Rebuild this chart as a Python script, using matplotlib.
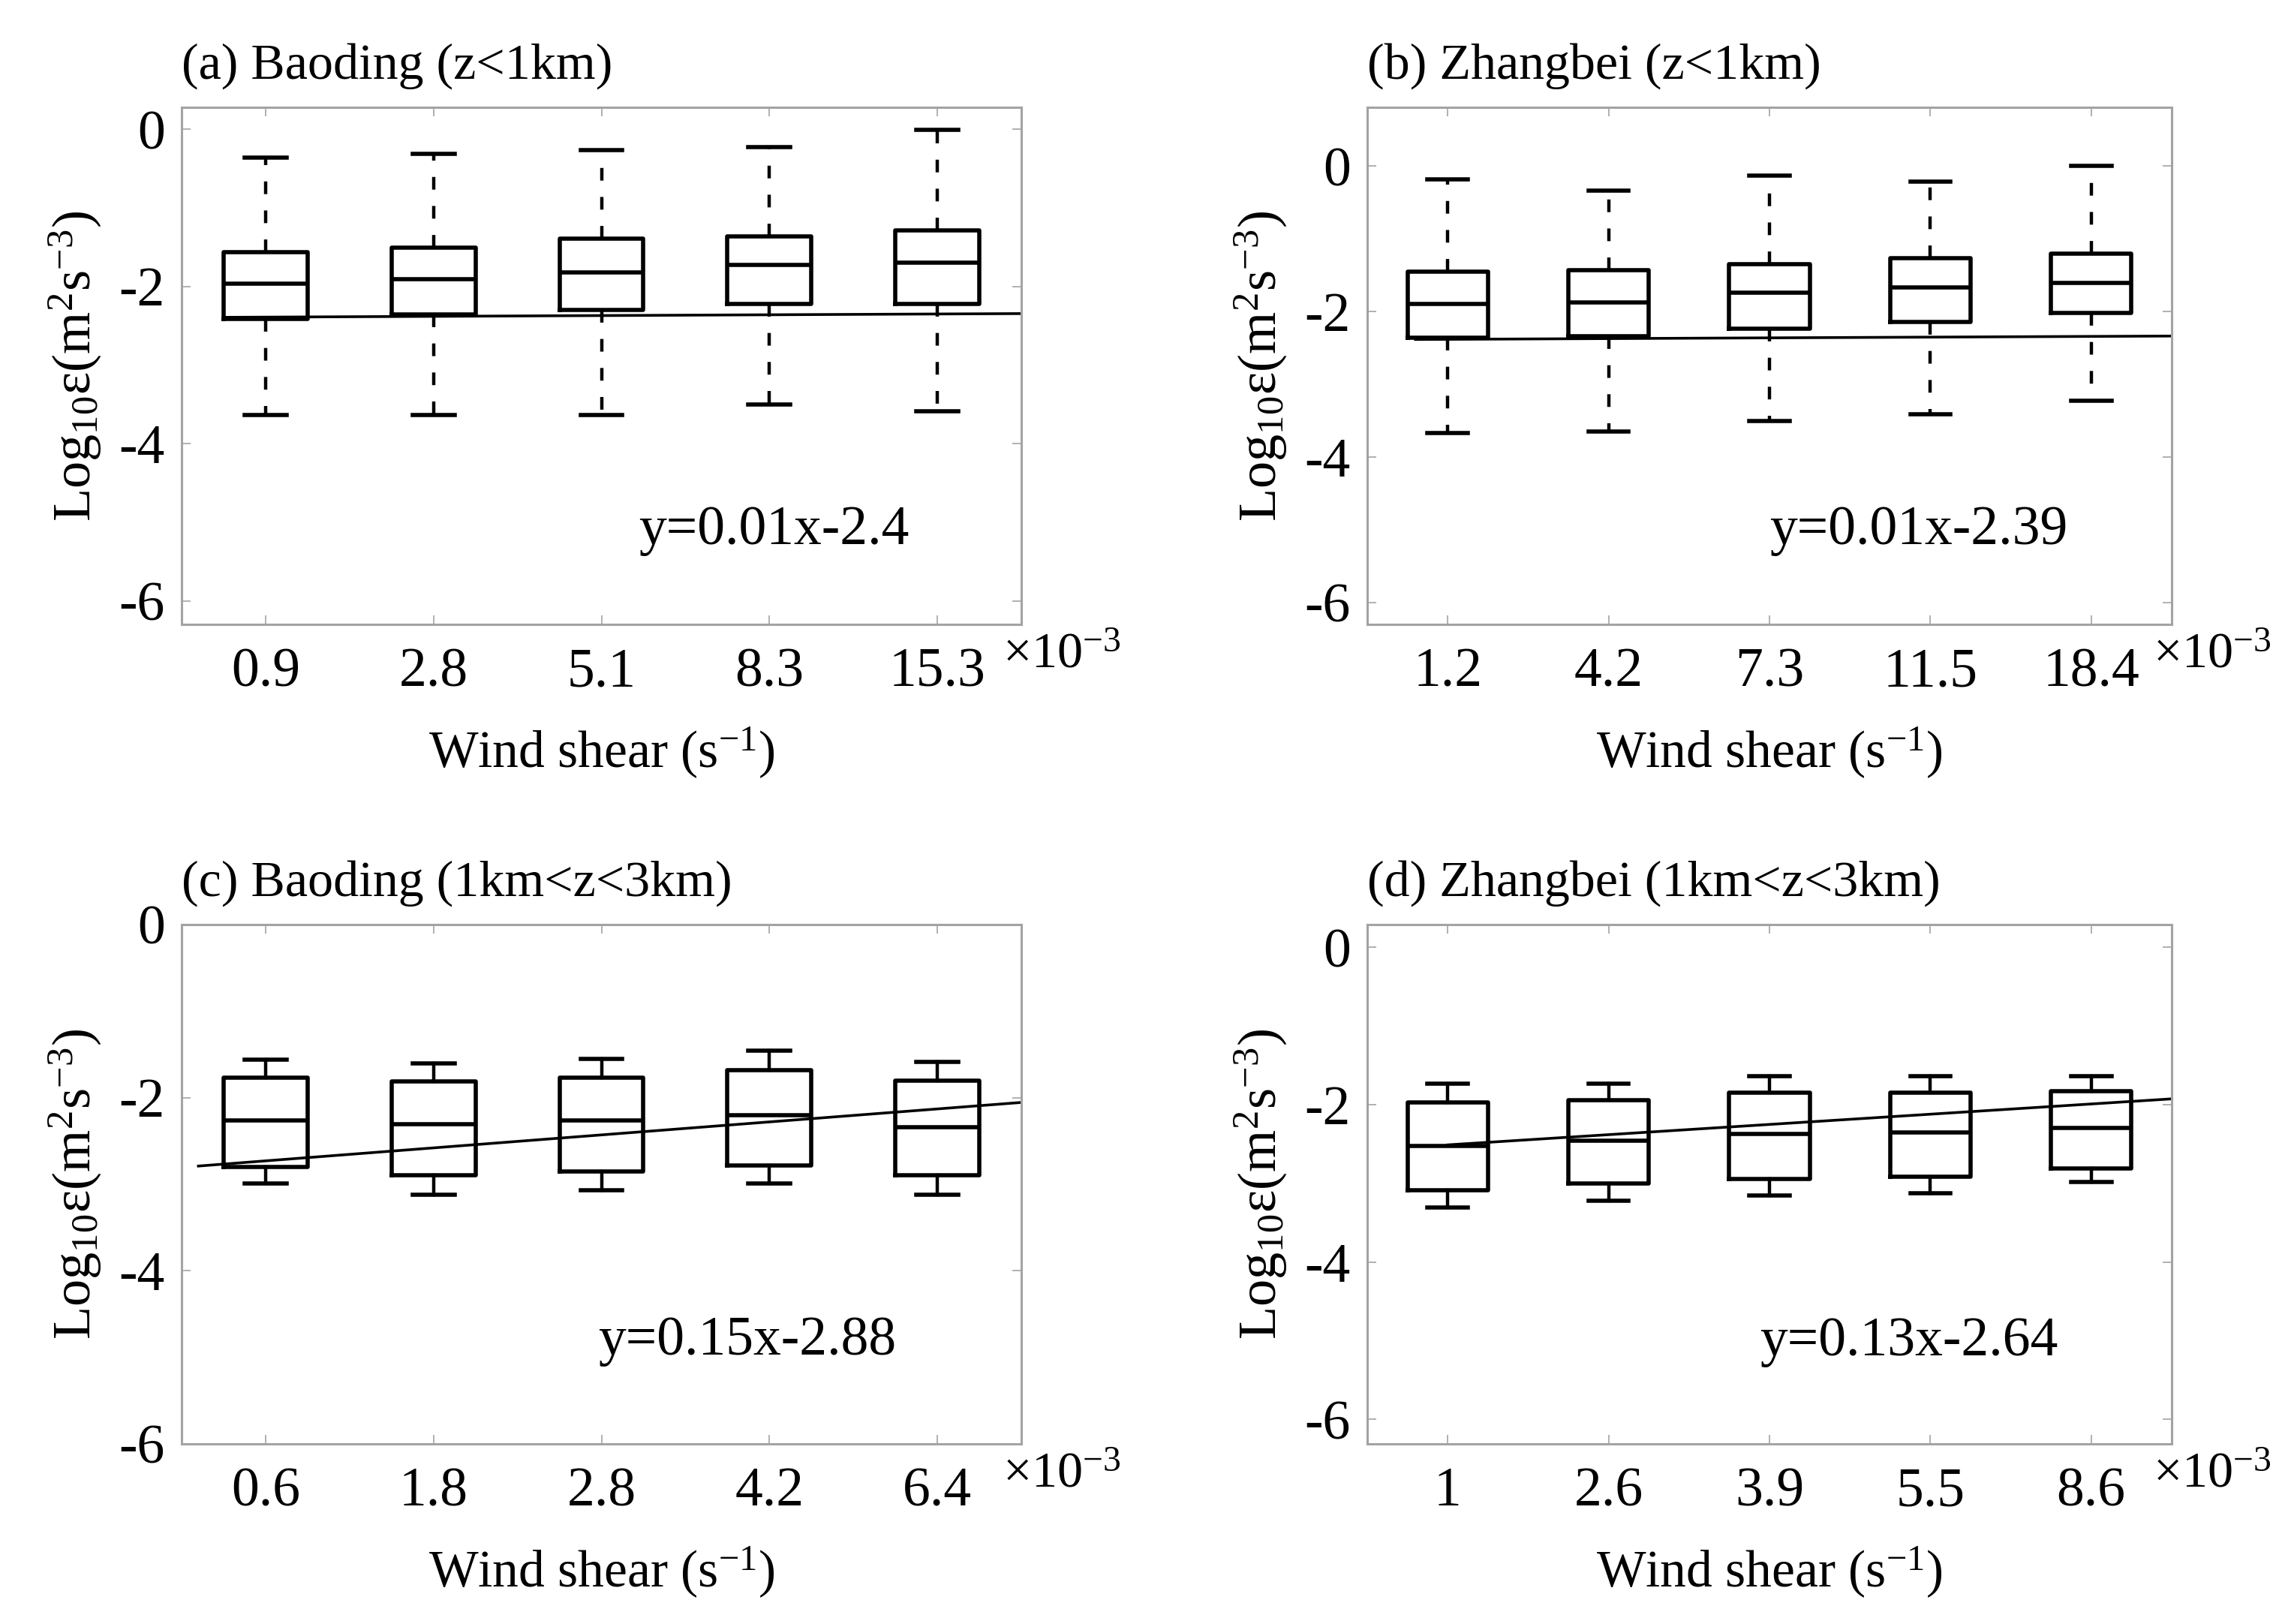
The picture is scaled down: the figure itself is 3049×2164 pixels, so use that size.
import matplotlib
matplotlib.use('Agg')
import matplotlib.pyplot as plt
import numpy as np

plt.rcParams['font.family'] = ['Liberation Serif', 'DejaVu Serif']
plt.rcParams['mathtext.fontset'] = 'custom'
plt.rcParams['mathtext.rm'] = 'Liberation Serif'
plt.rcParams['mathtext.it'] = 'Liberation Serif:italic'
plt.rcParams['mathtext.bf'] = 'Liberation Serif:bold'
plt.rcParams['axes.unicode_minus'] = False

# ---------------- data ----------------
titles = ['(a) Baoding (z<1km)', '(b) Zhangbei (z<1km)',
          '(c) Baoding (1km<z<3km)', '(d) Zhangbei (1km<z<3km)']
xticklabels = [['0.9', '2.8', '5.1', '8.3', '15.3'],
               ['1.2', '4.2', '7.3', '11.5', '18.4'],
               ['0.6', '1.8', '2.8', '4.2', '6.4'],
               ['1', '2.6', '3.9', '5.5', '8.6']]

# (a) Baoding z<1km
whishi_a = [-0.36, -0.31, -0.26, -0.23, -0.01]
q3_a     = [-1.56, -1.51, -1.39, -1.36, -1.29]
med_a    = [-1.96, -1.91, -1.82, -1.73, -1.70]
q1_a     = [-2.41, -2.36, -2.30, -2.22, -2.22]
whislo_a = [-3.64, -3.64, -3.64, -3.50, -3.59]
# (b) Zhangbei z<1km
whishi_b = [-0.18, -0.34, -0.13, -0.21, 0.01]
q3_b     = [-1.45, -1.43, -1.35, -1.26, -1.20]
med_b    = [-1.89, -1.87, -1.74, -1.67, -1.60]
q1_b     = [-2.36, -2.34, -2.23, -2.14, -2.02]
whislo_b = [-3.67, -3.65, -3.50, -3.41, -3.23]
# (c) Baoding 1km<z<3km
whishi_c = [-1.56, -1.60, -1.55, -1.46, -1.59]
q3_c     = [-1.77, -1.81, -1.77, -1.68, -1.80]
med_c    = [-2.26, -2.31, -2.26, -2.20, -2.34]
q1_c     = [-2.80, -2.90, -2.85, -2.78, -2.90]
whislo_c = [-2.99, -3.12, -3.07, -2.99, -3.12]
# (d) Zhangbei 1km<z<3km
whishi_d = [-1.73, -1.73, -1.64, -1.64, -1.64]
q3_d     = [-1.97, -1.94, -1.85, -1.85, -1.83]
med_d    = [-2.52, -2.46, -2.37, -2.35, -2.29]
q1_d     = [-3.09, -3.00, -2.94, -2.91, -2.81]
whislo_d = [-3.31, -3.22, -3.15, -3.12, -2.98]

# linear fits  y = slope * x + intercept
slopes = [0.01, 0.01, 0.15, 0.13]
intercepts = [-2.4, -2.39, -2.88, -2.64]
fit_start = [0.75, 0.8, 0.6, 1.0]
fit_end = [5.5, 5.5, 5.5, 5.5]
equations = ['y=0.01x-2.4', 'y=0.01x-2.39', 'y=0.15x-2.88', 'y=0.13x-2.64']

yticks = [-6, -4, -2, 0]
yticklabels = ['-6', '-4', '-2', '0']
ylims = [(-6.3, 0.28), (-6.3, 0.81), (-6.0, 0.0), (-6.31, 0.29)]

# ---------------- layout / style ----------------
W, H = 3049, 2164
DPI = 200
fig = plt.figure(figsize=(W / DPI, H / DPI), dpi=DPI)
rects = [[242 / W, 1 - 832 / H, 1119 / W, 689 / H],
         [1822 / W, 1 - 832 / H, 1072 / W, 689 / H],
         [242 / W, 1 - 1924 / H, 1119 / W, 692 / H],
         [1822 / W, 1 - 1924 / H, 1072 / W, 692 / H]]
eq_pos = [(3.22, -5.28), (3.0, -5.2), (2.98, -4.97), (2.94, -5.18)]
whisker_styles = [(0, (3.8, 4.9)), (0, (3.8, 4.9)), '-', '-']

stats_sets = [(whishi_a, q3_a, med_a, q1_a, whislo_a),
              (whishi_b, q3_b, med_b, q1_b, whislo_b),
              (whishi_c, q3_c, med_c, q1_c, whislo_c),
              (whishi_d, q3_d, med_d, q1_d, whislo_d)]

spine_col = '#a3a3a3'
FS_TICK = 26.5

for i in range(4):
    ax = fig.add_axes(rects[i])
    hi, q3, med, q1, lo = stats_sets[i]
    stats = []
    for k in range(5):
        stats.append(dict(whishi=hi[k], q3=q3[k], med=med[k], q1=q1[k],
                          whislo=lo[k], fliers=[]))
    pos = np.arange(1, 6)
    ax.bxp(stats, positions=pos, widths=0.5, capwidths=0.25,
           showfliers=False, patch_artist=False,
           boxprops=dict(color='black', linewidth=2.0),
           medianprops=dict(color='black', linewidth=2.0),
           whiskerprops=dict(color='black', linewidth=1.6,
                             linestyle=whisker_styles[i]),
           capprops=dict(color='black', linewidth=2.0))
    xs = np.array([fit_start[i], fit_end[i]])
    ax.plot(xs, slopes[i] * xs + intercepts[i], color='black', lw=1.3)

    ax.set_xlim(0.5, 5.5)
    ax.set_ylim(*ylims[i])
    ax.set_xticks(pos)
    ax.set_xticklabels(xticklabels[i])
    ax.set_yticks(yticks)
    ax.set_yticklabels(yticklabels)
    ax.tick_params(direction='in', length=4.3, width=0.6, color=spine_col,
                   top=True, right=True, labelsize=FS_TICK)
    ax.tick_params(axis='x', pad=11)
    ax.tick_params(axis='y', pad=8)
    for s in ax.spines.values():
        s.set_color(spine_col)
        s.set_linewidth(1.1)

    ax.set_title(titles[i], loc='left', fontsize=24.5, pad=14)
    ax.set_xlabel(r'Wind shear (s$^{-1}$)', fontsize=25)
    ax.xaxis.set_label_coords(0.5, -0.195)
    ax.set_ylabel(r'Log$_{10}$ε(m$^2$s$^{-3}$)', fontsize=26)
    ax.yaxis.set_label_coords(-(242 - 138) / (rects[i][2] * W), 0.5)

    ax.text(eq_pos[i][0], eq_pos[i][1], equations[i], fontsize=26.5,
            va='baseline', ha='left')
    ax.annotate('×10$^{-3}$', xy=(1, 0), xycoords='axes fraction',
                xytext=(-9, -21), textcoords='offset points',
                ha='left', va='baseline', fontsize=24.5)

fig.savefig('out.png', dpi=DPI)
